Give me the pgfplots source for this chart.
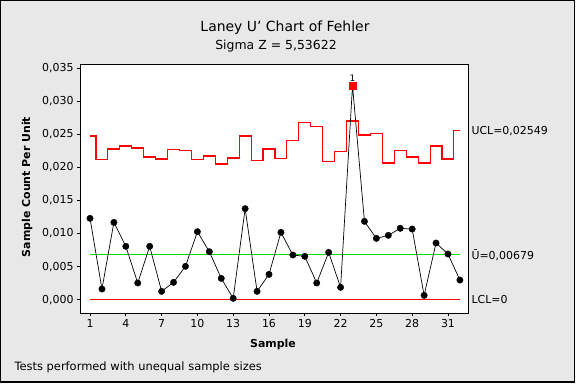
\documentclass[border=0pt]{standalone}
\usepackage{pgfplots}
\pgfplotsset{compat=1.18}
\usepackage{fontspec}
\setmainfont{DejaVu Sans}
\definecolor{bggray}{RGB}{232,232,232}
\definecolor{ucred}{RGB}{255,0,0}
\definecolor{cgreen}{RGB}{0,220,0}
\begin{document}
\begin{tikzpicture}[x=1bp,y=1bp]
\fill[white] (0,0) rectangle (577,385);
\fill[bggray] (0,2.5) rectangle (574.5,385);
\draw[black,line width=1.2bp] (0.6,3.1) rectangle (574.1,384.4);
\node[font=\fontsize{14}{16}\selectfont] at (285,357) {Laney U\symbol{"27} Chart of Fehler};
\node[font=\fontsize{12.5}{14}\selectfont] at (276,339) {Sigma Z = 5,53622};
\node[font=\fontsize{11.5}{13}\selectfont, anchor=west] at (11,18) {Tests performed with unequal sample sizes};
\node[font=\bfseries\fontsize{11}{13}\selectfont] at (273,41) {Sample};
\node[font=\bfseries\fontsize{11}{13}\selectfont, rotate=90] at (27,198) {Sample Count Per Unit};
\begin{axis}[
  at={(80bp,72bp)}, anchor=south west,
  width=388bp, height=248bp, scale only axis,
  xmin=0.16, xmax=32.68, ymin=-0.00201, ymax=0.03545,
  axis background/.style={fill=white},
  axis line style={black, line width=1bp},
  clip=false,
  tick pos=left, tick align=outside,
  major tick length=3bp,
  tick style={black, line width=0.8bp},
  xtick={1,4,7,10,13,16,19,22,25,28,31},
  ytick={0,0.005,0.01,0.015,0.02,0.025,0.03,0.035},
  scaled y ticks=false,
  yticklabel style={/pgf/number format/.cd, fixed, fixed zerofill, precision=3, use comma, assume math mode=true},
  xticklabel style={/pgf/number format/assume math mode=true},
  tick label style={font=\fontsize{11}{13}\selectfont},
]
% UCL
\addplot[ucred, line width=1.1bp, const plot mark mid] coordinates {
(1,0.02472) (2,0.02115) (3,0.02276) (4,0.02321) (5,0.02291) (6,0.02155)
(7,0.02125) (8,0.02266) (9,0.02251) (10,0.02115) (11,0.02170) (12,0.02049)
(13,0.02140) (14,0.02472) (15,0.02100) (16,0.02276) (17,0.02130) (18,0.02402)
(19,0.02674) (20,0.02613) (21,0.02085) (22,0.02236) (23,0.02699) (24,0.02487)
(25,0.02508) (26,0.02064) (27,0.02251) (28,0.02155) (29,0.02064) (30,0.02321)
(31,0.02125) (32,0.02549)};
% LCL
\addplot[ucred, line width=1.1bp] coordinates {(1,0) (32,0)};
% center line
\addplot[cgreen, line width=0.8bp] coordinates {(1,0.00679) (32,0.00679)};
% data line
\addplot[black, line width=0.7bp, no marks] coordinates {
(1,0.01229) (2,0.00161) (3,0.01168) (4,0.00806) (5,0.00252) (6,0.00806)
(7,0.00126) (8,0.00262) (9,0.00504) (10,0.01027) (11,0.00725) (12,0.00322)
(13,0.00020) (14,0.01375) (15,0.00126) (16,0.00383) (17,0.01017) (18,0.00675)
(19,0.00655) (20,0.00252) (21,0.00715) (22,0.00186) (23,0.03233) (24,0.01183)
(25,0.00926) (26,0.00972) (27,0.01078) (28,0.01067) (29,0.00065) (30,0.00856)
(31,0.00690) (32,0.00297)};
\addplot[only marks, mark=*, mark size=3.2bp, black] coordinates {
(1,0.01229) (2,0.00161) (3,0.01168) (4,0.00806) (5,0.00252) (6,0.00806)
(7,0.00126) (8,0.00262) (9,0.00504) (10,0.01027) (11,0.00725) (12,0.00322)
(13,0.00020) (14,0.01375) (15,0.00126) (16,0.00383) (17,0.01017) (18,0.00675)
(19,0.00655) (20,0.00252) (21,0.00715) (22,0.00186) (24,0.01183)
(25,0.00926) (26,0.00972) (27,0.01078) (28,0.01067) (29,0.00065) (30,0.00856)
(31,0.00690) (32,0.00297)};
\addplot[only marks, mark=square*, mark size=3.4bp, ucred,
  nodes near coords={1}, nodes near coords style={black, font=\fontsize{9}{10}\selectfont, yshift=1bp}]
  coordinates {(23,0.03233)};
\node[anchor=west, font=\fontsize{11}{13}\selectfont] at (axis cs:32.68,0.02549) {UCL=0,02549};
\node[anchor=west, font=\fontsize{11}{13}\selectfont] at (axis cs:32.68,0.00679) {\={U}=0,00679};
\node[anchor=west, font=\fontsize{11}{13}\selectfont] at (axis cs:32.68,0) {LCL=0};
\end{axis}
\end{tikzpicture}
\end{document}
